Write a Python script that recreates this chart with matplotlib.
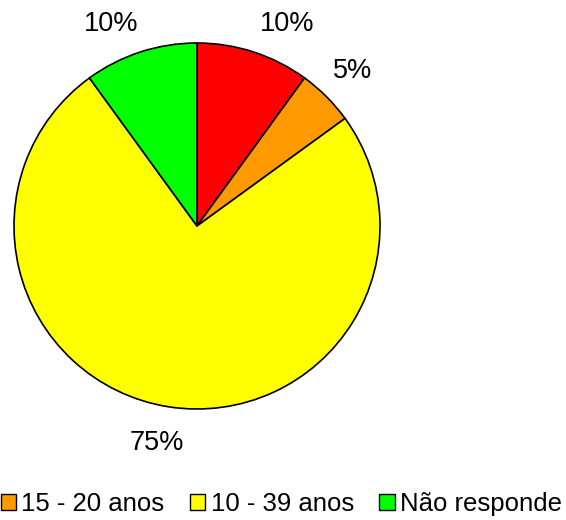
import matplotlib
matplotlib.use("Agg")
import matplotlib.pyplot as plt
from matplotlib.patches import Patch

plt.rcParams['font.family'] = ['Liberation Sans', 'DejaVu Sans']

# Data (clockwise from 12 o'clock)
categories = ["< 15 anos", "15 - 20 anos", "10 - 39 anos", "Não responde"]
values = [10, 5, 75, 10]
colors = ["#FF0000", "#FF9900", "#FFFF00", "#00FF00"]
legend_labels = ["15 - 20 anos", "10 - 39 anos", "Não responde"]
legend_colors = ["#FF9900", "#FFFF00", "#00FF00"]

fig = plt.figure(figsize=(5.66, 5.2), dpi=100)
ax = fig.add_axes([14/566, 111/520, 366/566, 366/520])

wedges, texts, autotexts = ax.pie(
    values, colors=colors, startangle=90, counterclock=False,
    autopct=lambda p: f"{p:.0f}%", pctdistance=1.2,
    wedgeprops=dict(edgecolor="black", linewidth=1.2),
    textprops=dict(fontsize=19.5, color="black"))
# nudge labels (as in the reference layout)
shifts = [(0.12, -0.04), (0.0, 0.0), (-0.03, 0.0), (-0.1, -0.04)]
for t, (sx, sy) in zip(autotexts, shifts):
    x, y = t.get_position()
    t.set_position((x + sx, y + sy))
ax.set_xlim(-1, 1)
ax.set_ylim(-1, 1)
ax.set_aspect("equal")
ax.axis("off")

handles = [Patch(facecolor=c, edgecolor="black", linewidth=1.0) for c in legend_colors]
fig.legend(handles, legend_labels, loc="center", bbox_to_anchor=(0.497, 0.031),
           ncol=3, frameon=False, fontsize=18.5, handlelength=0.6, handleheight=0.6,
           handletextpad=0.2, columnspacing=1.0, borderaxespad=0)

fig.savefig("out.png", dpi=100)
